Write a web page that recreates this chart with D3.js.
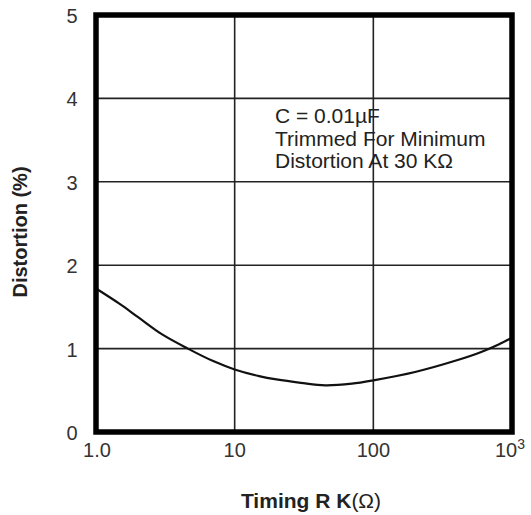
<!DOCTYPE html>
<html><head><meta charset="utf-8">
<script src="https://cdn.jsdelivr.net/npm/d3@7"></script>
<style>body{margin:0;background:#fff}</style>
</head><body>
<script>
const resistanceK = [1, 1.5, 2, 3, 4.6, 7, 10, 15, 20, 30, 45, 70, 100, 200, 400, 600, 800, 1000];
const distortionPct = [1.72, 1.53, 1.38, 1.17, 1.0, 0.85, 0.75, 0.67, 0.63, 0.59, 0.56, 0.58, 0.62, 0.72, 0.86, 0.96, 1.05, 1.13];
const yTicks = [0, 1, 2, 3, 4, 5];
const xTicks = [1, 10, 100, 1000];
const xTickLabels = ["1.0", "10", "100", "10^3"];
const annotation = ["C = 0.01\u00b5F", "Trimmed For Minimum", "Distortion At 30 K\u03a9"];

const W = 531, H = 515;
const L = 96, R = 512, T = 15, B = 432;
const svg = d3.select("body").append("svg").attr("width", W).attr("height", H)
  .style("font-family", "Liberation Sans, Arial, sans-serif");

const x = d3.scaleLog().domain([1, 1000]).range([L, R]);
const y = d3.scaleLinear().domain([0, 5]).range([B, T]);

// grid
svg.append("g").selectAll("line").data(yTicks.slice(1, -1)).join("line")
  .attr("x1", L).attr("x2", R).attr("y1", d => y(d)).attr("y2", d => y(d))
  .attr("stroke", "#222").attr("stroke-width", 1.6);
svg.append("g").selectAll("line").data(xTicks.slice(1, -1)).join("line")
  .attr("y1", T).attr("y2", B).attr("x1", d => x(d)).attr("x2", d => x(d))
  .attr("stroke", "#222").attr("stroke-width", 1.6);

// curve
svg.append("path").datum(resistanceK.map((r, i) => [r, distortionPct[i]]))
  .attr("fill", "none").attr("stroke", "#111").attr("stroke-width", 2.2)
  .attr("d", d3.line().x(d => x(d[0])).y(d => y(d[1])).curve(d3.curveCatmullRom.alpha(0.5)));

// frame
svg.append("rect").attr("x", L).attr("y", T).attr("width", R - L).attr("height", B - T)
  .attr("fill", "none").attr("stroke", "#000").attr("stroke-width", 5.5);

// y tick labels
svg.append("g").selectAll("text").data(yTicks).join("text")
  .attr("x", 72).attr("y", d => y(d) + 8).attr("text-anchor", "middle")
  .attr("font-size", 20).attr("fill", "#333").text(d => d);

// x tick labels
const xl = svg.append("g").selectAll("text").data(xTicks).join("text")
  .attr("x", (d, i) => x(d) + (i === 0 ? 1 : i === 3 ? -2 : 0))
  .attr("y", 457).attr("text-anchor", "middle")
  .attr("font-size", 20).attr("fill", "#333");
xl.each(function(d, i) {
  const lab = xTickLabels[i];
  const t = d3.select(this);
  if (lab.includes("^")) {
    const [b, e] = lab.split("^");
    t.append("tspan").text(b);
    t.append("tspan").attr("dy", -8).attr("font-size", 14).text(e);
  } else t.text(lab);
});

// annotation
svg.append("g").selectAll("text").data(annotation).join("text")
  .attr("x", 275).attr("y", (d, i) => 123 + i * 22.5)
  .attr("font-size", 21).attr("fill", "#222").text(d => d);

// axis titles
const xt = svg.append("text").attr("x", 311).attr("y", 508).attr("text-anchor", "middle")
  .attr("font-size", 21).attr("fill", "#222");
xt.append("tspan").attr("font-weight", "bold").text("Timing R K");
xt.append("tspan").text("(\u03a9)");
svg.append("text").attr("transform", "translate(27,232) rotate(-90)").attr("text-anchor", "middle")
  .attr("font-size", 20).attr("font-weight", "bold").attr("fill", "#222")
  .text("Distortion (%)");
</script>
</body></html>
